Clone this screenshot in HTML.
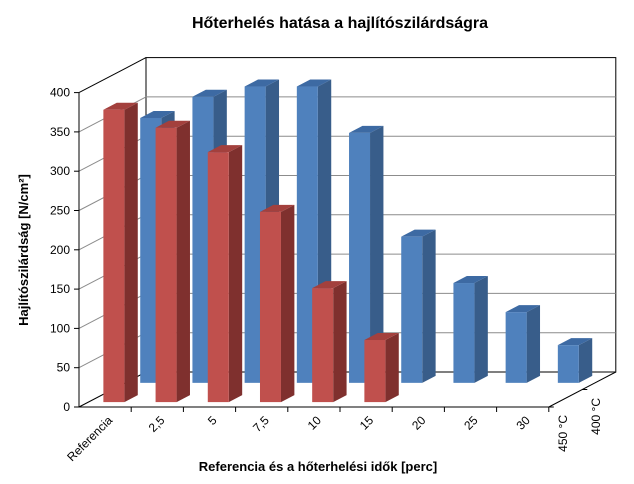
<!DOCTYPE html>
<html><head><meta charset="utf-8"><style>
body{margin:0;background:#fff}
svg{display:block;font-family:"Liberation Sans",Arial,sans-serif}
</style></head><body>
<svg id="chart" width="634" height="484" viewBox="0 0 634 484">
<text x="340" y="28" text-anchor="middle" font-size="16" font-weight="bold">Hőterhelés hatása a hajlítószilárdságra</text>
<text x="318" y="471" text-anchor="middle" font-size="13" font-weight="bold">Referencia és a hőterhelési idők [perc]</text>
<text transform="translate(28,250) rotate(-90)" text-anchor="middle" font-size="13" font-weight="bold">Hajlítószilárdság [N/cm²]</text>
<g id="walls"></g><g id="bars"></g><g id="axes"></g>
</svg>
<script>
const categories=["Referencia","2,5","5","7,5","10","15","20","25","30"];
const series400=[337,364,377,377,318,186,127,90,48];
const series450=[372,349,318,242,145,79,null,null,null];
const yTicks=[0,50,100,150,200,250,300,350,400];
const depthLabels=["450 °C","400 °C"];
const NS="http://www.w3.org/2000/svg";
const X0=79,Y0=407,CW=52.2,SC=0.786,DX=67,DY=35;
function px(i,off,d){return X0+i*CW+off+d*DX;}
function py(v,d){return Y0-v*SC-d*DY;}
function mk(tag,attrs,parent){const e=document.createElementNS(NS,tag);for(const k in attrs)e.setAttribute(k,attrs[k]);parent.appendChild(e);return e;}
const walls=document.getElementById('walls'),bars=document.getElementById('bars'),axes=document.getElementById('axes');
// back wall
let bw=mk('rect',{x:X0+DX,y:py(400,1),width:CW*9,height:400*SC,fill:'#fff',stroke:'#000','stroke-width':1},walls);

yTicks.forEach(t=>{
 if(t>0&&t<400){const g=mk('line',{x1:X0+DX,y1:py(t,1),x2:X0+DX+CW*9,y2:py(t,1),stroke:'#8c8c8c','stroke-width':1},walls);
 }
 const dl=mk('line',{x1:X0,y1:py(t,0),x2:X0+DX,y2:py(t,1),stroke:t==0||t==400?'#000':'#8c8c8c','stroke-width':1},walls);
 
});
// floor edges
const fr=mk('line',{x1:X0+CW*9,y1:Y0,x2:X0+CW*9+DX,y2:Y0-DY,stroke:'#000'},axes);

const fb=mk('line',{x1:X0+DX,y1:Y0-DY,x2:X0+DX+CW*9,y2:Y0-DY,stroke:'#555','stroke-width':1.5},walls);

function bar(i,v,d0,d1,face,side,top,name){
 if(v==null)return;
 const g=mk('g',{},bars);
 
 const off=15,w=21;
 const xl=px(i,off,d0),xr=px(i,off+w,d0),xl2=px(i,off,d1),xr2=px(i,off+w,d1);
 const yb=py(0,d0),yt=py(v,d0),yb2=py(0,d1),yt2=py(v,d1);
 mk('polygon',{points:`${xr},${yb} ${xr2},${yb2} ${xr2},${yt2} ${xr},${yt}`,fill:side},g);
 mk('polygon',{points:`${xl},${yt} ${xr},${yt} ${xr2},${yt2} ${xl2},${yt2}`,fill:top},g);
 mk('rect',{x:xl,y:yt,width:w,height:yb-yt,fill:face},g);
}
series400.forEach((v,i)=>bar(i,v,0.69,0.89,'#4f81bd','#385d8a','#3d6aa3','bar-400-'+i));
series450.forEach((v,i)=>bar(i,v,0.14,0.34,'#c0504d','#7f302e','#a3403d','bar-450-'+i));
// axes
const ya=mk('line',{x1:X0,y1:py(0,0),x2:X0,y2:py(400,0),stroke:'#000'},axes);

const xa=mk('line',{x1:X0,y1:Y0,x2:X0+CW*9,y2:Y0,stroke:'#000'},axes);

yTicks.forEach(t=>{
 mk('line',{x1:X0-5,y1:py(t,0),x2:X0,y2:py(t,0),stroke:'#000'},axes);
 const tx=mk('text',{x:X0-9,y:py(t,0)+4,'text-anchor':'end','font-size':12},axes);
 tx.textContent=t;
 
});
categories.forEach((c,i)=>{
 mk('line',{x1:X0+(i+1)*CW,y1:Y0,x2:X0+(i+1)*CW,y2:Y0+5,stroke:'#000'},axes);
 const cx=X0+(i+0.5)*CW+8,cy=Y0+14;
 const tx=mk('text',{x:cx,y:cy,'text-anchor':'end','font-size':12,transform:`rotate(-45 ${cx} ${cy})`},axes);
 tx.textContent=c;
 
});
mk('line',{x1:X0+CW*9+DX/2,y1:Y0-DY/2,x2:X0+CW*9+DX/2+5,y2:Y0-DY/2,stroke:'#000'},axes);
mk('line',{x1:X0+CW*9,y1:Y0,x2:X0+CW*9+5,y2:Y0,stroke:'#000'},axes);
depthLabels.forEach((l,k)=>{
 const cx=X0+CW*9+18+k*33,cy=Y0+8-k*17;
 const tx=mk('text',{x:cx,y:cy,'text-anchor':'end','font-size':12,transform:`rotate(-90 ${cx} ${cy})`},axes);
 tx.textContent=l;
 
});
</script>
</body></html>
